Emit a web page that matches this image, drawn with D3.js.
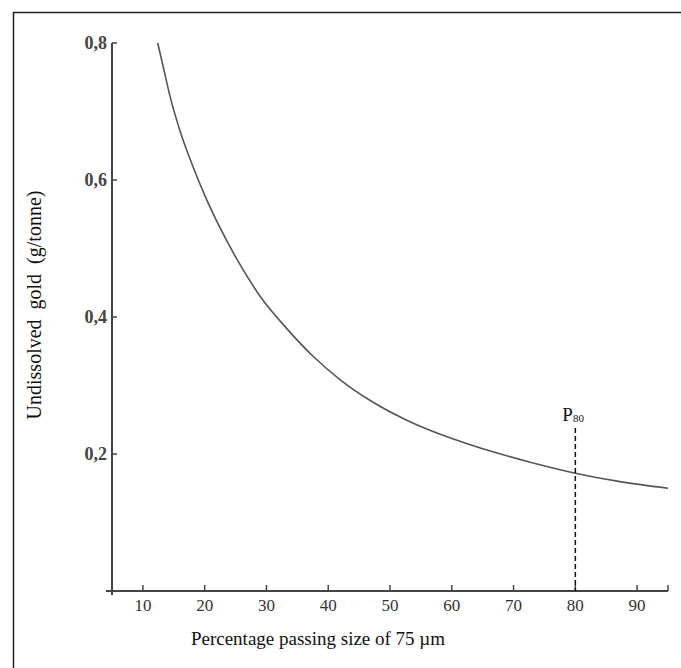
<!DOCTYPE html>
<html>
<head>
<meta charset="utf-8">
<title>undissolved gold</title>
<script src="https://d3js.org/d3.v7.min.js"></script>
<style>
  body { margin: 0; background: #fff; }
  text { font-family: "Liberation Serif", "Times New Roman", serif; }
</style>
</head>
<body>
<script>
// curve
var passing = [12.4, 13.3, 14.4, 16, 18, 20, 22.5, 25.5, 29, 33.3, 37.5, 42, 47, 52.8, 57.5, 62.5, 67.5, 72.7, 80, 87, 95];
var gold = [0.800, 0.765, 0.722, 0.672, 0.622, 0.578, 0.530, 0.480, 0.430, 0.383, 0.343, 0.308, 0.277, 0.249, 0.231, 0.215, 0.201, 0.188, 0.172, 0.160, 0.150];
var xTicks = [10, 20, 30, 40, 50, 60, 70, 80, 90];
var yTicks = [0.2, 0.4, 0.6, 0.8];
var p80 = 80;

var width = 681, height = 668;
var svg = d3.select("body").append("svg")
    .attr("width", width).attr("height", height);

// frame (top + left only)
svg.append("path")
    .attr("d", "M13.5,668 V12.5 H681")
    .attr("fill", "none").attr("stroke", "#222").attr("stroke-width", 1.5);

var x = d3.scaleLinear().domain([5, 95]).range([112, 668]);
var y = d3.scaleLinear().domain([0, 0.8]).range([591, 43]);

var axisCol = "#444";

// y axis line
svg.append("line")
    .attr("x1", x(5)).attr("x2", x(5))
    .attr("y1", y(0.8)).attr("y2", y(0) + 4)
    .attr("stroke", axisCol).attr("stroke-width", 2);
// x axis line
svg.append("line")
    .attr("x1", x(5) - 6).attr("x2", x(95))
    .attr("y1", y(0)).attr("y2", y(0))
    .attr("stroke", axisCol).attr("stroke-width", 2);

// y ticks
svg.selectAll(".yt").data(yTicks).enter().append("line")
    .attr("x1", x(5)).attr("x2", x(5) + 5)
    .attr("y1", function(d) { return y(d); }).attr("y2", function(d) { return y(d); })
    .attr("stroke", axisCol).attr("stroke-width", 1.5);
svg.selectAll(".yl").data(yTicks).enter().append("text")
    .attr("x", x(5) - 5).attr("y", function(d) { return y(d) + 6; })
    .attr("text-anchor", "end")
    .attr("font-size", 18).attr("font-weight", "bold").attr("fill", "#444")
    .text(function(d) { return d3.format(".1f")(d).replace(".", ","); });

// x ticks (pointing up), plus one at the axis end
svg.selectAll(".xt").data(xTicks.concat([95])).enter().append("line")
    .attr("x1", function(d) { return x(d); }).attr("x2", function(d) { return x(d); })
    .attr("y1", y(0)).attr("y2", y(0) - 6)
    .attr("stroke", axisCol).attr("stroke-width", 1.5);
svg.selectAll(".xl").data(xTicks).enter().append("text")
    .attr("x", function(d) { return x(d); }).attr("y", y(0) + 20)
    .attr("text-anchor", "middle")
    .attr("font-size", 17).attr("fill", "#333")
    .text(function(d) { return d; });

// curve
var line = d3.line()
    .x(function(d, i) { return x(passing[i]); })
    .y(function(d) { return y(d); })
    .curve(d3.curveMonotoneX);
svg.append("path")
    .attr("d", line(gold))
    .attr("fill", "none").attr("stroke", "#555").attr("stroke-width", 1.6);

// P80 marker
svg.append("line")
    .attr("x1", x(p80)).attr("x2", x(p80))
    .attr("y1", 428).attr("y2", y(0))
    .attr("stroke", "#111").attr("stroke-width", 1.5)
    .attr("stroke-dasharray", "5,3");
var pl = svg.append("text")
    .attr("x", x(p80) - 13).attr("y", 421)
    .attr("font-size", 19).attr("fill", "#111");
pl.append("tspan").text("P");
pl.append("tspan").attr("font-size", 11).attr("dy", 1).text("80");

// axis titles
svg.append("text")
    .attr("x", 318).attr("y", 645)
    .attr("text-anchor", "middle")
    .attr("font-size", 19).attr("fill", "#111")
    .text("Percentage passing size of 75 \u00b5m");
svg.append("text")
    .attr("transform", "translate(41,305) rotate(-90)")
    .attr("text-anchor", "middle")
    .attr("font-size", 20).attr("fill", "#111")
    .attr("xml:space", "preserve").style("white-space", "pre")
    .text("Undissolved  gold  (g/tonne)");
</script>
</body>
</html>
